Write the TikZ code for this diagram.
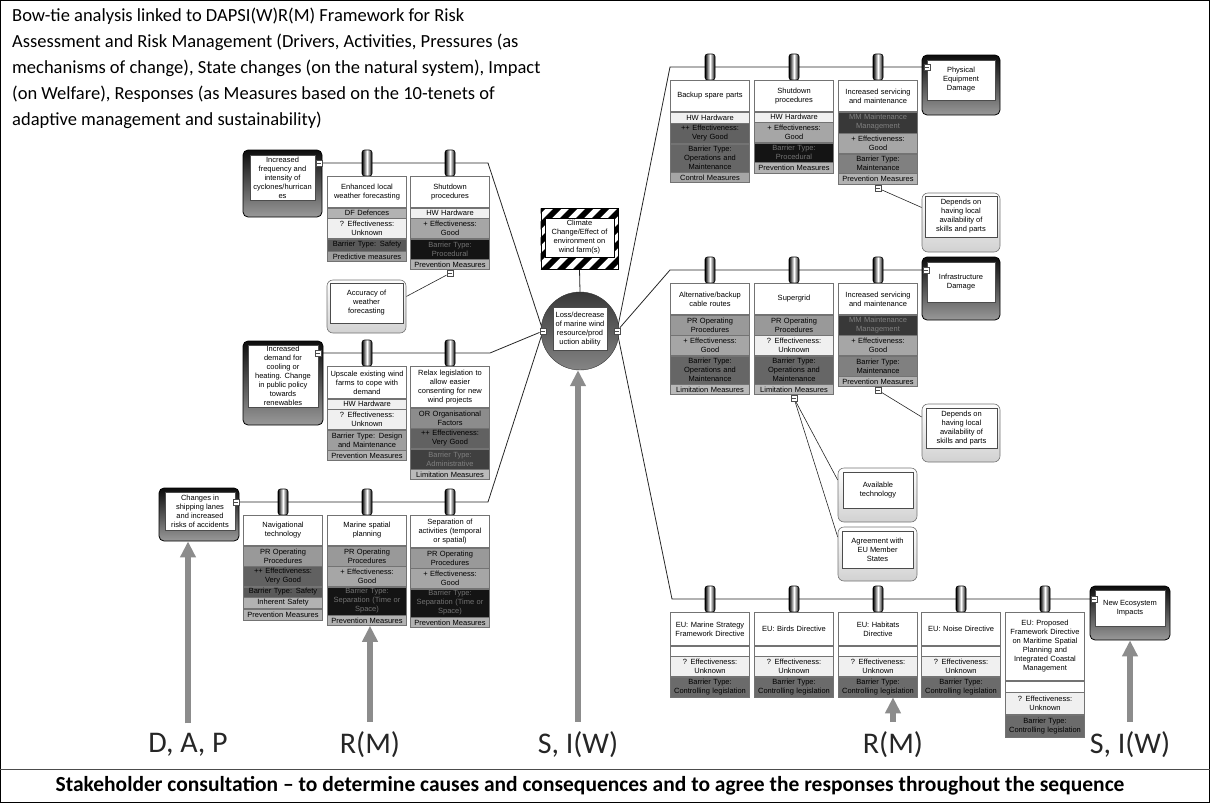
\documentclass[tikz,border=0pt]{standalone}
\usepackage{fontspec}
\setmainfont{Carlito}
\newfontfamily\boxfont{Liberation Sans}
\usepackage{tikz}
\usetikzlibrary{positioning,arrows.meta,calc}
\pgfdeclarelayer{background}
\pgfsetlayers{background,main}

\tikzset{
    cell/.style={draw=black!55, line width=0.5pt, fill=white, minimum width=79pt, text width=75pt,
        inner sep=1pt, align=center, font=\boxfont\fontsize{7.5}{9}\selectfont, minimum height=10pt},
    bartitle/.style={cell, minimum height=31pt},
    h2/.style={minimum height=20pt},
    h3/.style={minimum height=28pt},
    hw/.style={fill=black!6},
    unk/.style={fill=black!6},
    good/.style={fill=black!35},
    vgood/.style={fill=black!62},
    prev/.style={fill=black!30},
    lim/.style={fill=black!27},
    pr/.style={fill=black!40},
    mm/.style={fill=black!78, text=black!50},
    proc/.style={fill=black!92, text=black!55},
    opm/.style={fill=black!60},
    maint/.style={fill=black!50},
    legis/.style={fill=black!58},
    knob/.style={draw=black, line width=0.6pt, rounded corners=2.5pt, minimum width=10pt,
        minimum height=26pt, inner sep=0pt, left color=black, right color=black, middle color=white},
    fold/.style={draw=black!70, fill=white, minimum size=6.5pt, inner sep=0pt,
        path picture={\draw[line width=0.6pt] ([xshift=1.5pt]path picture bounding box.west) -- ([xshift=-1.5pt]path picture bounding box.east);}},
    threat/.style={rounded corners=5pt, draw=black, line width=0.8pt, top color=black!95,
        bottom color=black!40, inner sep=0pt},
    esc/.style={rounded corners=6pt, draw=black!55, line width=0.6pt, top color=white,
        bottom color=black!18, inner sep=0pt},
    tin/.style={draw=black!70, fill=white, line width=0.5pt, inner sep=0pt, align=center,
        font=\boxfont\fontsize{7.5}{9}\selectfont},
    wire/.style={draw=black!85, line width=0.8pt},
    bigarrow/.style={draw=black!45, line width=5.5pt, -{Triangle[length=16pt,width=15pt]}},
    tag/.style={font=\fontsize{30}{34}\selectfont, text=black!85, inner sep=1pt}
}

\begin{document}
\begin{tikzpicture}[x=1pt,y=-1pt]
\useasboundingbox (0,0) rectangle (1210,803);
\draw[line width=1pt] (0.5,0.5) rectangle (1209.5,802.5);
\draw[line width=1pt, black!70] (0,769) -- (1210,769);

\node[anchor=north west, align=left, inner sep=0pt, font=\fontsize{18.5}{26}\selectfont] (ttl) at (12,8)
    {Bow-tie analysis linked to DAPSI(W)R(M) Framework for Risk\\
     Assessment and Risk Management (Drivers, Activities, Pressures (as\\
     mechanisms of change), State changes (on the natural system), Impact\\
     (on Welfare), Responses (as Measures based on the 10-tenets of\\
     adaptive management and sustainability)};

% hazard and top event
\node[draw=black, line width=0.6pt, minimum width=77pt, minimum height=61pt, inner sep=0pt] (hz) at (579.5,238.5) {};
\begin{scope}
    \clip (hz.south west) rectangle (hz.north east);
    \foreach \s in {-64,-48,...,80}
        \fill[black] ([xshift=\s pt]hz.south west) -- ++(8pt,0) -- ++(61pt,61pt) -- ++(-8pt,0) -- cycle;
\end{scope}
\node[tin, draw=black, minimum width=69pt, minimum height=39pt] (hzi) at (579.5,237.5)
    {Climate\\Change/Effect of\\environment on\\wind farm(s)};
\node[circle, draw=black!80, minimum size=78pt, top color=black!78, bottom color=black!48] (ev) at (580,331) {};
\node[tin, minimum width=54pt, minimum height=43pt] (evi) at (580,329)
    {Loss/decrease\\of marine wind\\resource/prod\\uction ability};
\node[fold] (lm) at (543,331) {};
\node[fold] (rm) at (617,331) {};

% threats
\node[threat, minimum width=79pt, minimum height=67pt] (t1) at (282.5,183.5) {};
\node[tin, minimum width=65pt, minimum height=45pt] (t1i) at (282.5,177.5)
    {Increased\\frequency and\\intensity of\\cyclones/hurrican\\es};
\node[fold] (t1m) at (319,163) {};
\node[threat, minimum width=80pt, minimum height=84pt] (t2) at (283,383) {};
\node[tin, minimum width=70pt, minimum height=62pt] (t2i) at (283,376)
    {Increased\\demand for\\cooling or\\heating. Change\\in public policy\\towards\\renewables};
\node[fold] (t2m) at (318,353) {};
\node[threat, minimum width=80pt, minimum height=53pt] (t3) at (199,514.5) {};
\node[tin, minimum width=70pt, minimum height=38pt] (t3i) at (200,511.5)
    {Changes in\\shipping lanes\\and increased\\risks of accidents};
\node[fold] (t3m) at (236,502) {};

% consequences
\node[threat, minimum width=78pt, minimum height=60pt] (c1) at (961,85) {};
\node[tin, minimum width=68pt, minimum height=40pt] (c1i) at (961,80) {Physical\\Equipment\\Damage};
\node[fold] (c1m) at (927,67) {};
\node[threat, minimum width=78pt, minimum height=63pt] (c2) at (961,288.5) {};
\node[tin, minimum width=68pt, minimum height=40pt] (c2i) at (961,282) {Infrastructure\\Damage};
\node[fold] (c2m) at (926,270) {};
\node[threat, minimum width=80pt, minimum height=54pt] (c3) at (1130,613) {};
\node[tin, minimum width=70pt, minimum height=36pt] (c3i) at (1130,608) {New Ecosystem\\Impacts};
\node[fold] (c3m) at (1094,599) {};

% barriers, left
\node[knob] (k11) at (367,163) {};
\node[bartitle, below=0pt of k11] (b1t) {Enhanced local\\weather forecasting};
\node[cell, fill=black!30, below=0pt of b1t] (b1a) {DF Defences};
\node[cell, unk, h2, below=0pt of b1a] (b1b) {? Effectiveness:\\Unknown};
\node[cell, fill=black!65, minimum height=12pt, below=0pt of b1b] (b1c) {Barrier Type: Safety};
\node[cell, fill=black!38, below=0pt of b1c] (b1d) {Predictive measures};

\node[knob] (k12) at (450,163) {};
\node[bartitle, below=0pt of k12] (b2t) {Shutdown\\procedures};
\node[cell, hw, below=0pt of b2t] (b2a) {HW Hardware};
\node[cell, good, h2, below=0pt of b2a] (b2b) {+ Effectiveness:\\Good};
\node[cell, proc, h2, below=0pt of b2b] (b2c) {Barrier Type:\\Procedural};
\node[cell, prev, below=0pt of b2c] (b2d) {Prevention Measures};
\node[fold, below=0pt of b2d] (b2m) {};

\node[knob] (k21) at (367,353) {};
\node[bartitle, minimum height=32pt, below=0pt of k21] (b3t) {Upscale existing wind\\farms to cope with\\demand};
\node[cell, hw, below=0pt of b3t] (b3a) {HW Hardware};
\node[cell, unk, h2, below=0pt of b3a] (b3b) {? Effectiveness:\\Unknown};
\node[cell, fill=black!38, h2, below=0pt of b3b] (b3c) {Barrier Type: Design\\and Maintenance};
\node[cell, prev, below=0pt of b3c] (b3d) {Prevention Measures};

\node[knob] (k22) at (450,353) {};
\node[bartitle, minimum height=41pt, below=0pt of k22] (b4t) {Relax legislation to\\allow easier\\consenting for new\\wind projects};
\node[cell, fill=black!45, h2, below=0pt of b4t] (b4a) {OR Organisational\\Factors};
\node[cell, vgood, h2, below=0pt of b4a] (b4b) {++ Effectiveness:\\Very Good};
\node[cell, fill=black!75, text=black!50, h2, below=0pt of b4b] (b4c) {Barrier Type:\\Administrative};
\node[cell, lim, below=0pt of b4c] (b4d) {Limitation Measures};

\node[knob] (k31) at (283,502) {};
\node[bartitle, minimum height=30pt, below=0pt of k31] (b5t) {Navigational\\technology};
\node[cell, pr, h2, below=0pt of b5t] (b5a) {PR Operating\\Procedures};
\node[cell, vgood, h2, below=0pt of b5a] (b5b) {++ Effectiveness:\\Very Good};
\node[cell, fill=black!65, below=0pt of b5b] (b5c) {Barrier Type: Safety};
\node[cell, fill=black!30, minimum height=11pt, below=0pt of b5c] (b5d) {Inherent Safety};
\node[cell, prev, minimum height=11pt, below=0pt of b5d] (b5e) {Prevention Measures};

\node[knob] (k32) at (367,502) {};
\node[bartitle, minimum height=30pt, below=0pt of k32] (b6t) {Marine spatial\\planning};
\node[cell, pr, h2, below=0pt of b6t] (b6a) {PR Operating\\Procedures};
\node[cell, good, h2, below=0pt of b6a] (b6b) {+ Effectiveness:\\Good};
\node[cell, proc, h3, below=0pt of b6b] (b6c) {Barrier Type:\\Separation (Time or\\Space)};
\node[cell, prev, below=0pt of b6c] (b6d) {Prevention Measures};

\node[knob] (k33) at (450,502) {};
\node[bartitle, minimum height=32pt, below=0pt of k33] (b7t) {Separation of\\activities (temporal\\or spatial)};
\node[cell, pr, h2, below=0pt of b7t] (b7a) {PR Operating\\Procedures};
\node[cell, good, h2, below=0pt of b7a] (b7b) {+ Effectiveness:\\Good};
\node[cell, proc, h3, below=0pt of b7b] (b7c) {Barrier Type:\\Separation (Time or\\Space)};
\node[cell, prev, below=0pt of b7c] (b7d) {Prevention Measures};

% barriers, right
\node[knob] (k41) at (710,67) {};
\node[bartitle, below=0pt of k41] (r1t) {Backup spare parts};
\node[cell, hw, minimum height=11pt, below=0pt of r1t] (r1a) {HW Hardware};
\node[cell, vgood, h2, below=0pt of r1a] (r1b) {++ Effectiveness:\\Very Good};
\node[cell, opm, h3, below=0pt of r1b] (r1c) {Barrier Type:\\Operations and\\Maintenance};
\node[cell, fill=black!35, below=0pt of r1c] (r1d) {Control Measures};

\node[knob] (k42) at (794,67) {};
\node[bartitle, below=0pt of k42] (r2t) {Shutdown\\procedures};
\node[cell, hw, below=0pt of r2t] (r2a) {HW Hardware};
\node[cell, good, h2, below=0pt of r2a] (r2b) {+ Effectiveness:\\Good};
\node[cell, proc, minimum height=19pt, below=0pt of r2b] (r2c) {Barrier Type:\\Procedural};
\node[cell, prev, minimum height=11pt, below=0pt of r2c] (r2d) {Prevention Measures};

\node[knob] (k43) at (878,67) {};
\node[bartitle, below=0pt of k43] (r3t) {Increased servicing\\and maintenance};
\node[cell, mm, minimum height=21pt, below=0pt of r3t] (r3a) {MM Maintenance\\Management};
\node[cell, good, h2, below=0pt of r3a] (r3b) {+ Effectiveness:\\Good};
\node[cell, maint, minimum height=19pt, below=0pt of r3b] (r3c) {Barrier Type:\\Maintenance};
\node[cell, prev, minimum height=11pt, below=0pt of r3c] (r3d) {Prevention Measures};
\node[fold, below=0pt of r3d] (r3m) {};

\node[knob] (k51) at (710,270) {};
\node[bartitle, below=0pt of k51] (r4t) {Alternative/backup\\cable routes};
\node[cell, pr, h2, below=0pt of r4t] (r4a) {PR Operating\\Procedures};
\node[cell, good, h2, below=0pt of r4a] (r4b) {+ Effectiveness:\\Good};
\node[cell, opm, h3, below=0pt of r4b] (r4c) {Barrier Type:\\Operations and\\Maintenance};
\node[cell, lim, below=0pt of r4c] (r4d) {Limitation Measures};

\node[knob] (k52) at (794,270) {};
\node[bartitle, below=0pt of k52] (r5t) {Supergrid};
\node[cell, pr, h2, below=0pt of r5t] (r5a) {PR Operating\\Procedures};
\node[cell, unk, h2, below=0pt of r5a] (r5b) {? Effectiveness:\\Unknown};
\node[cell, opm, h3, below=0pt of r5b] (r5c) {Barrier Type:\\Operations and\\Maintenance};
\node[cell, lim, below=0pt of r5c] (r5d) {Limitation Measures};
\node[fold, below=0pt of r5d] (r5m) {};

\node[knob] (k53) at (878,270) {};
\node[bartitle, below=0pt of k53] (r6t) {Increased servicing\\and maintenance};
\node[cell, mm, h2, below=0pt of r6t] (r6a) {MM Maintenance\\Management};
\node[cell, good, h2, below=0pt of r6a] (r6b) {+ Effectiveness:\\Good};
\node[cell, maint, h2, below=0pt of r6b] (r6c) {Barrier Type:\\Maintenance};
\node[cell, prev, below=0pt of r6c] (r6d) {Prevention Measures};
\node[fold, below=0pt of r6d] (r6m) {};

% legislation row
\node[knob] (k61) at (710,599) {};
\node[bartitle, minimum height=33pt, below=0pt of k61] (e1t) {EU: Marine Strategy\\Framework Directive};
\node[cell, below=0pt of e1t] (e1a) {};
\node[cell, unk, h2, below=0pt of e1a] (e1b) {? Effectiveness:\\Unknown};
\node[cell, legis, h2, below=0pt of e1b] (e1c) {Barrier Type:\\Controlling legislation};

\node[knob] (k62) at (794,599) {};
\node[bartitle, minimum height=33pt, below=0pt of k62] (e2t) {EU: Birds Directive};
\node[cell, below=0pt of e2t] (e2a) {};
\node[cell, unk, h2, below=0pt of e2a] (e2b) {? Effectiveness:\\Unknown};
\node[cell, legis, h2, below=0pt of e2b] (e2c) {Barrier Type:\\Controlling legislation};

\node[knob] (k63) at (878,599) {};
\node[bartitle, minimum height=33pt, below=0pt of k63] (e3t) {EU: Habitats\\Directive};
\node[cell, below=0pt of e3t] (e3a) {};
\node[cell, unk, h2, below=0pt of e3a] (e3b) {? Effectiveness:\\Unknown};
\node[cell, legis, h2, below=0pt of e3b] (e3c) {Barrier Type:\\Controlling legislation};

\node[knob] (k64) at (961,599) {};
\node[bartitle, minimum height=33pt, below=0pt of k64] (e4t) {EU: Noise Directive};
\node[cell, below=0pt of e4t] (e4a) {};
\node[cell, unk, h2, below=0pt of e4a] (e4b) {? Effectiveness:\\Unknown};
\node[cell, legis, h2, below=0pt of e4b] (e4c) {Barrier Type:\\Controlling legislation};

\node[knob] (k65) at (1045,599) {};
\node[bartitle, minimum height=68pt, below=0pt of k65] (e5t) {EU: Proposed\\Framework Directive\\on Maritime Spatial\\Planning and\\Integrated Coastal\\Management};
\node[cell, minimum height=11pt, below=0pt of e5t] (e5a) {};
\node[cell, unk, minimum height=22pt, below=0pt of e5a] (e5b) {? Effectiveness:\\Unknown};
\node[cell, legis, minimum height=22pt, below=0pt of e5b] (e5c) {Barrier Type:\\Controlling legislation};

% escalation factors
\node[esc, minimum width=79pt, minimum height=53pt] (ef1) at (366.5,306.5) {};
\node[tin, minimum width=73pt, minimum height=40pt] (ef1i) at (366.5,303) {Accuracy of\\weather\\forecasting};
\node[esc, minimum width=78pt, minimum height=59pt] (ef2) at (961,222.5) {};
\node[tin, minimum width=72pt, minimum height=41pt] (ef2i) at (961,216.5) {Depends on\\having local\\availability of\\skills and parts};
\node[esc, minimum width=78pt, minimum height=58pt] (ef3) at (961,433) {};
\node[tin, minimum width=71pt, minimum height=40pt] (ef3i) at (961.5,428) {Depends on\\having local\\availability of\\skills and parts};
\node[esc, minimum width=79pt, minimum height=54pt] (ef4) at (877.5,495) {};
\node[tin, minimum width=70pt, minimum height=36pt] (ef4i) at (878,490) {Available\\technology};
\node[esc, minimum width=79pt, minimum height=54pt] (ef5) at (877.5,554) {};
\node[tin, minimum width=71pt, minimum height=37pt] (ef5i) at (877.5,549.5) {Agreement with\\EU Member\\States};

% bends of the bow-tie lines
\coordinate (t1b) at (488,163);
\coordinate (t2b) at (490,353);
\coordinate (t3b) at (488,502);
\coordinate (c1b) at (670,67);
\coordinate (c2b) at (670,270);
\coordinate (c3b) at (672,599);

\begin{pgfonlayer}{background}
    \draw[wire] (t1m) -- (t1b) -- (lm);
    \draw[wire] (t2m) -- (t2b) -- (lm);
    \draw[wire] (t3m) -- (t3b) -- (lm);
    \draw[wire] (rm) -- (c1b) -- (c1m);
    \draw[wire] (rm) -- (c2b) -- (c2m);
    \draw[wire] (rm) -- (c3b) -- (c3m);
    \draw[wire] (hz.south) -- (ev.north);
    \draw[wire, line width=0.6pt] (b2m) -- ([yshift=10pt]ef1.east);
    \draw[wire, line width=0.6pt] (r3m) -- ([yshift=15pt]ef2.west);
    \draw[wire, line width=0.6pt] (r6m) -- ([yshift=16pt]ef3.west);
    \draw[wire, line width=0.6pt] (r5m) -- ([yshift=15pt]ef4.west);
    \draw[wire, line width=0.6pt] (r5m) -- ([yshift=17pt]ef5.west);
\end{pgfonlayer}

% DAPSI(W)R(M) labels
\node[tag] (lab1) at (188,745) {D, A, P};
\node[tag] (lab2) at (370,745) {R(M)};
\node[tag] (lab3) at (578,745) {S, I(W)};
\node[tag] (lab4) at (893,745) {R(M)};
\node[tag] (lab5) at (1130,745) {S, I(W)};
\draw[bigarrow] ([yshift=9pt]lab1.north) -- (lab1.north |- t3.south);
\draw[bigarrow] ([yshift=9pt]lab2.north) -- (lab2.north |- b6d.south);
\draw[bigarrow] ([yshift=9pt]lab3.north) -- (lab3.north |- ev.south);
\draw[bigarrow] ([yshift=9pt]lab4.north) -- (lab4.north |- e3c.south);
\draw[bigarrow] ([yshift=9pt]lab5.north) -- (lab5.north |- c3.south);

\node[font=\bfseries\fontsize{21.5}{24}\selectfont] (cap) at (590,786)
    {Stakeholder consultation -- to determine causes and consequences and to agree the responses throughout  the sequence};
\end{tikzpicture}
\end{document}
